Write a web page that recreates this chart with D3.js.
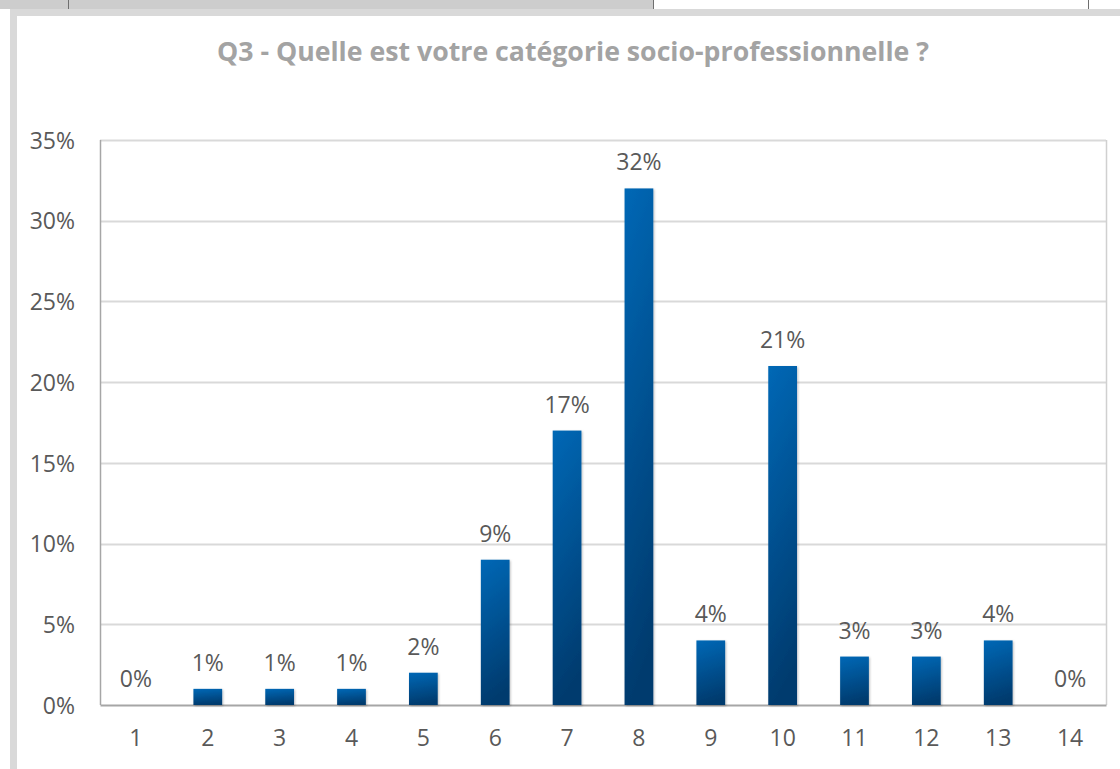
<!DOCTYPE html>
<html>
<head>
<meta charset="utf-8">
<script src="https://cdn.jsdelivr.net/npm/d3@7"></script>
<style>
  body { margin: 0; background: #fff; }
  svg { display: block; font-family: "Open Sans", sans-serif; }
</style>
</head>
<body>
<script>
//chart values
var categories = ["1","2","3","4","5","6","7","8","9","10","11","12","13","14"];
var values = [0, 1, 1, 1, 2, 9, 17, 32, 4, 21, 3, 3, 4, 0];
var yTicks = [0, 5, 10, 15, 20, 25, 30, 35];
var title = "Q3 - Quelle est votre catégorie socio-professionnelle ?";

window.onload = drawChart();

function drawChart(){

    var width = 1120,
        height = 769;

    var svg = d3.select("body")
        .append("svg")
        .attr("width", width)
        .attr("height", height);

    //window chrome around the chart (spreadsheet frame)
    svg.append("rect").attr("x", 0).attr("y", 0).attr("width", 653).attr("height", 9).attr("fill", "#cdcdcd");
    svg.append("line").attr("x1", 68.5).attr("x2", 68.5).attr("y1", 0).attr("y2", 9).attr("stroke", "#6f6f6f");
    svg.append("line").attr("x1", 653.5).attr("x2", 653.5).attr("y1", 0).attr("y2", 9).attr("stroke", "#6f6f6f");
    svg.append("line").attr("x1", 1088.5).attr("x2", 1088.5).attr("y1", 0).attr("y2", 9).attr("stroke", "#6f6f6f");
    svg.append("rect").attr("x", 10).attr("y", 9).attr("width", width - 10).attr("height", 7).attr("fill", "#d9d9d9");
    svg.append("rect").attr("x", 10).attr("y", 9).attr("width", 7).attr("height", height - 9).attr("fill", "#d9d9d9");

    //gradient for the bars
    var defs = svg.append("defs");
    var grad = defs.append("linearGradient")
        .attr("id", "barGrad")
        .attr("x1", "0").attr("y1", "0")
        .attr("x2", "0.15").attr("y2", "1");
    grad.append("stop").attr("offset", "0%").attr("stop-color", "#0068b6");
    grad.append("stop").attr("offset", "100%").attr("stop-color", "#003b6e");

    var shadow = defs.append("filter").attr("id", "shadow")
        .attr("x", "-20%").attr("y", "-20%").attr("width", "140%").attr("height", "140%");
    shadow.append("feDropShadow")
        .attr("dx", 1).attr("dy", 1).attr("stdDeviation", 1.2)
        .attr("flood-color", "#000").attr("flood-opacity", 0.25);

    //plot area
    var left = 100, right = 1106, top = 140, bottom = 705;

    var x = d3.scaleBand()
        .domain(categories)
        .range([left, right]);

    var y = d3.scaleLinear()
        .domain([0, 35])
        .range([bottom, top]);

    //title
    svg.append("text")
        .attr("x", 573)
        .attr("y", 61)
        .attr("text-anchor", "middle")
        .attr("font-size", 26.7)
        .attr("font-weight", "bold")
        .attr("fill", "#a3a3a3")
        .text(title);

    //gridlines
    svg.append("g")
        .selectAll("line")
        .data(yTicks.filter(function(d){ return d > 0; }))
        .enter()
        .append("line")
        .attr("x1", left).attr("x2", right)
        .attr("y1", function(d){ return Math.round(y(d)) + 0.5; })
        .attr("y2", function(d){ return Math.round(y(d)) + 0.5; })
        .attr("stroke", "#d9d9d9")
        .attr("stroke-width", 2);

    //plot border lines
    svg.append("line").attr("x1", left + 0.5).attr("x2", left + 0.5).attr("y1", top).attr("y2", bottom)
        .attr("stroke", "#a6a6a6").attr("stroke-width", 1.5);
    svg.append("line").attr("x1", right + 0.5).attr("x2", right + 0.5).attr("y1", top).attr("y2", bottom)
        .attr("stroke", "#d0d0d0").attr("stroke-width", 1.5);

    //y axis
    var yAxis = d3.axisLeft(y)
        .tickValues(yTicks)
        .tickSize(0)
        .tickPadding(25)
        .tickFormat(function(d){ return d + "%"; });

    var gy = svg.append("g")
        .attr("transform", "translate(" + left + ",0)")
        .call(yAxis);
    gy.select(".domain").remove();
    gy.selectAll("text")
        .attr("font-size", 23)
        .attr("font-family", "Open Sans, sans-serif")
        .attr("fill", "#595959")
        .attr("dy", "0.36em");

    //x axis
    var xAxis = d3.axisBottom(x).tickSize(0).tickPadding(25);
    var gx = svg.append("g")
        .attr("transform", "translate(0," + bottom + ")")
        .call(xAxis);
    gx.select(".domain")
        .attr("stroke", "#a6a6a6")
        .attr("stroke-width", 2);
    gx.selectAll("text")
        .attr("font-size", 23)
        .attr("font-family", "Open Sans, sans-serif")
        .attr("fill", "#595959");

    //bars
    var barW = x.bandwidth() * 0.4;
    svg.append("g")
        .selectAll("rect")
        .data(values)
        .enter()
        .append("rect")
        .attr("x", function(d, i){ return x(categories[i]) + (x.bandwidth() - barW) / 2; })
        .attr("y", function(d){ return y(d); })
        .attr("width", barW)
        .attr("height", function(d){ return bottom - y(d); })
        .attr("fill", "url(#barGrad)")
        .attr("filter", "url(#shadow)")
        .style("display", function(d){ return d > 0 ? null : "none"; });

    //data labels
    svg.append("g")
        .selectAll("text")
        .data(values)
        .enter()
        .append("text")
        .attr("x", function(d, i){ return x(categories[i]) + x.bandwidth() / 2; })
        .attr("y", function(d){ return y(d) - 18; })
        .attr("text-anchor", "middle")
        .attr("font-size", 23)
        .attr("fill", "#595959")
        .text(function(d){ return d + "%"; });
}
</script>
</body>
</html>
